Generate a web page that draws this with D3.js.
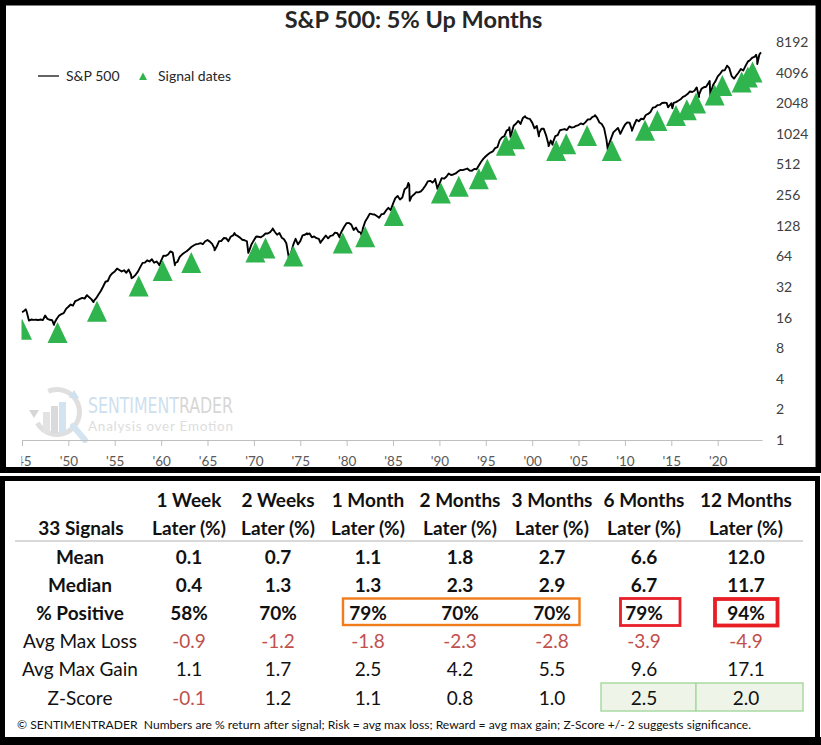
<!DOCTYPE html>
<html>
<head>
<meta charset="utf-8">
<script src="https://cdn.jsdelivr.net/npm/d3@7"></script>
<style>
  body { margin: 0; background: #fff; }
  svg { display: block; font-family: Lato, "Open Sans", sans-serif; }
</style>
</head>
<body>
<svg id="chart" width="821" height="745"></svg>
<script>
// S&P 500, quarter-end closes, first point Jan 1946, then every 3 months
var spxStart = "1946-01-01";
var spxQuarterly = [18.0,
  18.7, 18.4, 14.96, 15.30,   15.17, 15.21, 15.11, 15.30,   15.08, 16.74, 15.49, 15.20,
  15.06, 14.16, 15.58, 16.76,  17.29, 17.69, 19.45, 20.41,   21.48, 20.96, 23.26, 23.77,
  24.37, 24.96, 24.54, 26.57,  25.29, 24.14, 23.35, 24.81,   26.94, 29.21, 32.31, 35.98,
  36.58, 41.03, 43.67, 45.48,  48.48, 46.97, 45.35, 46.67,   44.11, 47.37, 42.42, 39.99,
  42.10, 45.24, 50.06, 55.21,  55.44, 58.47, 56.88, 59.89,   55.34, 56.92, 53.52, 58.11,
  65.06, 64.64, 66.73, 71.55,  69.55, 54.75, 56.27, 63.10,   66.57, 69.37, 71.70, 75.02,
  78.98, 81.69, 84.18, 84.75,  86.16, 84.12, 89.96, 92.43,   89.23, 84.74, 76.56, 80.33,
  90.20, 90.64, 96.71, 96.47,  90.20, 99.58, 102.67, 103.86, 101.51, 97.71, 93.12, 92.06,
  89.63, 72.72, 84.21, 92.15,  100.31, 99.70, 98.34, 102.09, 107.20, 107.14, 110.55, 118.05,
  111.52, 104.26, 108.43, 97.55, 93.98, 86.00, 63.54, 68.56, 83.36, 95.19, 83.87, 90.19,
  102.77, 104.28, 105.24, 107.46, 98.42, 100.48, 96.53, 95.10, 89.21, 95.53, 102.54, 96.11,
  101.59, 102.91, 109.32, 107.94, 102.09, 114.24, 125.46, 135.76, 136.00, 131.21, 116.18, 122.55,
  111.96, 109.61, 120.42, 140.64, 152.96, 168.11, 166.07, 164.93, 159.18, 153.18, 166.10, 167.24,
  180.66, 191.85, 182.08, 211.28, 238.90, 250.84, 231.32, 242.17, 291.70, 304.00, 321.83, 247.08,
  258.89, 273.50, 271.91, 277.72, 294.87, 317.98, 349.15, 353.40, 339.94, 358.02, 306.05, 330.22,
  375.22, 371.16, 387.86, 417.09, 403.69, 408.14, 417.80, 435.71, 451.67, 450.53, 458.93, 466.45,
  445.77, 444.27, 462.69, 459.27, 500.71, 544.75, 584.41, 615.93, 645.50, 670.63, 687.31, 740.74,
  757.12, 885.14, 947.28, 970.43, 1101.75, 1133.84, 1017.01, 1229.23, 1286.37, 1372.71, 1282.71, 1469.25,
  1498.58, 1454.60, 1436.51, 1320.28, 1160.33, 1224.42, 1040.94, 1148.08, 1147.39, 989.82, 815.28, 879.82,
  848.18, 974.50, 995.97, 1111.92, 1126.21, 1140.84, 1114.58, 1211.92, 1180.59, 1191.33, 1228.81, 1248.29,
  1294.83, 1270.20, 1335.85, 1418.30, 1420.86, 1503.35, 1526.75, 1468.36, 1322.70, 1280.00, 1166.36, 903.25,
  797.87, 919.32, 1057.08, 1115.10, 1169.43, 1030.71, 1141.20, 1257.64, 1325.83, 1320.64, 1131.42, 1257.60,
  1408.47, 1362.16, 1440.67, 1426.19, 1569.19, 1606.28, 1681.55, 1848.36, 1872.34, 1960.23, 1972.29, 2058.90,
  2067.89, 2063.11, 1920.03, 2043.94, 2059.74, 2098.86, 2168.27, 2238.83, 2362.72, 2423.41, 2519.36, 2673.61,
  2640.87, 2718.37, 2913.98, 2506.85, 2834.40, 2941.76, 2976.74, 3230.78, 2584.59, 3100.29, 3363.00, 3756.07,
  3972.89, 4297.50, 4307.54, 4766.18, 4530.41, 3785.38, 3585.62, 3839.50, 4109.31, 4450.38, 4288.05, 4769.83,
  5254.35, 5460.48, 5762.48, 5881.63, 5611.85, 6204.95];

// intra-quarter highs / lows and the last point
var spxExtraDates = ["1946-05-29", "1949-06-14", "1953-09-15", "1957-10-22", "1960-10-25", "1962-06-26",
  "1966-10-07", "1968-11-29", "1970-05-26", "1973-01-11", "1974-10-03", "1976-09-21", "1978-03-06",
  "1980-03-27", "1982-08-12", "1987-08-25", "1987-10-19", "1990-07-16", "1990-10-11", "1998-07-17",
  "1998-08-31", "2000-03-24", "2001-09-21", "2002-10-09", "2003-03-11", "2007-10-09", "2009-03-09",
  "2010-07-02", "2011-10-03", "2015-08-25", "2016-02-11", "2018-09-20", "2018-12-24", "2020-02-19",
  "2020-03-23", "2022-01-03", "2022-10-12", "2025-02-19", "2025-04-08", "2025-09-01"];
var spxExtraValues = [19.25, 13.55, 22.7, 38.98, 52.2, 52.32,
  73.2, 108.37, 69.29, 120.24, 62.28, 107.83, 86.9,
  98.22, 102.42, 336.77, 224.84, 368.95, 295.46, 1186.75,
  957.28, 1527.46, 965.8, 776.76, 800.73, 1565.15, 676.53,
  1022.58, 1099.23, 1867.61, 1829.08, 2930.75, 2351.1, 3386.15,
  2237.4, 4796.56, 3577.03, 6144.15, 4982.77, 6460.26];

// signal dates and the level where each marker sits
var signalDates = ["1946-01", "1949-11", "1954-02", "1958-08", "1961-03", "1964-04", "1971-03", "1972-04",
  "1975-04", "1980-08", "1983-01", "1986-02", "1991-03", "1993-02", "1995-04", "1996-03", "1998-03",
  "1999-03", "2003-08", "2004-09", "2006-12", "2009-08", "2013-03", "2014-07", "2016-07", "2017-09",
  "2018-09", "2020-09", "2021-07", "2023-08", "2024-04", "2024-10"];
var signalLevels = [12.3, 11.4, 18.5, 32.7, 46.4, 55.6, 70.5, 77.2,
  64.4, 86.5, 99.7, 161, 268, 312, 370, 459, 790,
  915, 702, 819, 986, 702, 1109, 1384, 1550, 1767,
  2057, 2466, 3057, 3309, 3705, 4150];

var yTicks = [1, 2, 4, 8, 16, 32, 64, 128, 256, 512, 1024, 2048, 4096, 8192];
var xTickYears = [1945, 1950, 1955, 1960, 1965, 1970, 1975, 1980, 1985, 1990, 1995, 2000, 2005, 2010, 2015, 2020];

// stats table
var signalCount = 33;
var horizons = ["1 Week", "2 Weeks", "1 Month", "2 Months", "3 Months", "6 Months", "12 Months"];
var meanRet = [0.1, 0.7, 1.1, 1.8, 2.7, 6.6, 12.0];
var medianRet = [0.4, 1.3, 1.3, 2.3, 2.9, 6.7, 11.7];
var pctPositive = [58, 70, 79, 70, 70, 79, 94];
var avgMaxLoss = [-0.9, -1.2, -1.8, -2.3, -2.8, -3.9, -4.9];
var avgMaxGain = [1.1, 1.7, 2.5, 4.2, 5.5, 9.6, 17.1];
var zScore = [-0.1, 1.2, 1.1, 0.8, 1.0, 2.5, 2.0];

var svg = d3.select("#chart");
var green = "#2fb44e";

// panel borders
svg.append("rect").attr("x", 3).attr("y", 2.5).attr("width", 815.5).attr("height", 467.5)
    .attr("fill", "#fff").attr("stroke", "#000").attr("stroke-width", 6);
svg.append("rect").attr("x", 2.5).attr("y", 478.5).attr("width", 815).attr("height", 262)
    .attr("fill", "#fff").attr("stroke", "#000").attr("stroke-width", 5);
svg.append("rect").attr("x", 0).attr("y", 737).attr("width", 821).attr("height", 8).attr("fill", "#000");

// scales
var parseM = d3.timeParse("%Y-%m");
var parseD = d3.timeParse("%Y-%m-%d");
var x = d3.scaleTime()
    .domain([new Date(1946, 0, 1), new Date(2025, 9, 10)])
    .range([22, 762]);
var y = d3.scaleLog().base(2)
    .domain([1, 8192])
    .range([440, 42]);

var defs = svg.append("defs");
defs.append("clipPath").attr("id", "plotclip")
    .append("rect").attr("x", 21.5).attr("y", 30).attr("width", 750).attr("height", 420);
// axis clip is in the axis group's own coordinates
defs.append("clipPath").attr("id", "axisclip")
    .append("rect").attr("x", 21.5).attr("y", -10).attr("width", 780).attr("height", 40);
// two-tone fill for the watermark word
var wg = defs.append("linearGradient").attr("id", "wmfill")
    .attr("gradientUnits", "userSpaceOnUse").attr("x1", 88).attr("x2", 233).attr("y1", 0).attr("y2", 0);
wg.append("stop").attr("offset", 0.6).attr("stop-color", "#c8dced");
wg.append("stop").attr("offset", 0.6).attr("stop-color", "#d2d2d2");

// watermark
var wm = svg.append("g").attr("opacity", 0.9);
wm.append("path")
    .attr("d", d3.arc()({innerRadius: 20, outerRadius: 25, startAngle: -0.4, endAngle: 4.2}))
    .attr("transform", "translate(57,412)")
    .attr("fill", "#dcdcdc");
wm.append("path").attr("d", "M29,410 L39,410 L34,418 Z").attr("fill", "#d2d2d2");
wm.append("path").attr("d", "M69,398 L79,398 L74,390 Z").attr("fill", "#c9def0");
wm.append("rect").attr("x", 43).attr("y", 412).attr("width", 7).attr("height", 21).attr("fill", "#e1e1e1");
wm.append("rect").attr("x", 51).attr("y", 406).attr("width", 7).attr("height", 27).attr("fill", "#d6d6d6");
wm.append("rect").attr("x", 59).attr("y", 402).attr("width", 7).attr("height", 31).attr("fill", "#cfe1ef");
wm.append("line").attr("x1", 73).attr("y1", 426).attr("x2", 85).attr("y2", 440)
    .attr("stroke", "#cfe1ef").attr("stroke-width", 6).attr("stroke-linecap", "round");
wm.append("text").attr("x", 88).attr("y", 413).attr("font-size", 21)
    .attr("font-family", "'Liberation Sans Narrow', 'DejaVu Sans Condensed', sans-serif")
    .attr("textLength", 145).attr("lengthAdjust", "spacingAndGlyphs")
    .attr("fill", "url(#wmfill)").text("SENTIMENTRADER");
wm.append("text").attr("x", 88).attr("y", 431)
    .attr("font-size", 13.5).attr("textLength", 145).attr("lengthAdjust", "spacing")
    .attr("fill", "#dadada").text("Analysis over Emotion");

// title
svg.append("text").attr("x", 413.5).attr("y", 28)
    .attr("text-anchor", "middle").attr("font-size", 23.5).attr("font-weight", "bold")
    .attr("fill", "#262626").text("S&P 500: 5% Up Months");

// legend
svg.append("line").attr("x1", 38).attr("x2", 59).attr("y1", 76).attr("y2", 76)
    .attr("stroke", "#222").attr("stroke-width", 1.4);
svg.append("text").attr("x", 66).attr("y", 81).attr("font-size", 14).attr("fill", "#262626").text("S&P 500");
svg.append("path").attr("d", "M143,72.5 L147,80 L139,80 Z").attr("fill", green);
svg.append("text").attr("x", 158).attr("y", 81).attr("font-size", 14).attr("fill", "#262626").text("Signal dates");

// x axis
var xAxis = d3.axisBottom(x)
    .tickValues(xTickYears.map(function(yr) { return new Date(yr, 11, 31); }))
    .tickFormat(function(d) { return "'" + String(d.getFullYear()).slice(2); })
    .tickSize(6).tickSizeOuter(0).tickPadding(10);
var gx = svg.append("g").attr("transform", "translate(0,440)")
    .attr("clip-path", "url(#axisclip)")
    .call(xAxis);
gx.select(".domain").attr("stroke", "#bfbfbf").attr("stroke-width", 1.2);
gx.selectAll(".tick line").attr("stroke", "#bfbfbf");
gx.selectAll(".tick text").attr("font-size", 13.5).attr("fill", "#595959")
    .attr("font-family", "Lato, sans-serif");

// y axis (labels only, right side)
var yAxis = d3.axisRight(y).tickValues(yTicks).tickFormat(d3.format("d")).tickSize(0).tickPadding(0);
var gy = svg.append("g").attr("transform", "translate(776,0)").call(yAxis);
gy.select(".domain").remove();
gy.selectAll(".tick text").attr("font-size", 14).attr("fill", "#404040")
    .attr("font-family", "Lato, sans-serif");

// price line
var spx = spxQuarterly.map(function(v, i) {
    return {date: d3.timeMonth.offset(parseD(spxStart), 3 * i), value: v};
}).concat(spxExtraDates.map(function(d, i) {
    return {date: parseD(d), value: spxExtraValues[i]};
})).sort(function(a, b) { return a.date - b.date; });

var plot = svg.append("g").attr("clip-path", "url(#plotclip)");
plot.append("path")
    .datum(spx)
    .attr("fill", "none")
    .attr("stroke", "#000")
    .attr("stroke-width", 1.9)
    .attr("stroke-linejoin", "round")
    .attr("d", d3.line()
        .x(function(d) { return x(d.date); })
        .y(function(d) { return y(d.value); }));

// signal markers
var signals = signalDates.map(function(d, i) { return {date: parseM(d), level: signalLevels[i]}; });
plot.selectAll(".signal")
    .data(signals)
    .enter().append("path")
    .attr("class", "signal")
    .attr("fill", green)
    .attr("d", function(d) {
        var cx = x(d.date), cy = y(d.level);
        return "M" + cx + "," + (cy - 10.5) + "L" + (cx + 10) + "," + (cy + 10.5) +
            "L" + (cx - 10) + "," + (cy + 10.5) + "Z";
    });

// ---------- table ----------
var colX = d3.scaleOrdinal().domain(horizons).range([189, 278, 368, 460, 552, 644, 746]);
var labelX = 80;
var red = "#c0504d";
var fmt1 = function(v) { return v.toFixed(1); };
var pct = function(v) { return v + "%"; };

var tbl = svg.append("g").attr("font-size", 19);

// highlighted cells (drawn first)
tbl.append("rect").attr("x", 601).attr("y", 683).attr("width", 95).attr("height", 28)
    .attr("fill", "#eef5e8").attr("stroke", "#a9d9a3").attr("stroke-width", 1.5);
tbl.append("rect").attr("x", 696).attr("y", 683).attr("width", 107).attr("height", 28)
    .attr("fill", "#eef5e8").attr("stroke", "#a9d9a3").attr("stroke-width", 1.5);

// header
tbl.append("text").attr("x", 81).attr("y", 528).attr("dy", "0.35em").attr("text-anchor", "middle")
    .attr("font-weight", "bold").attr("fill", "#111").text(signalCount + " Signals");
horizons.forEach(function(h) {
    tbl.append("text").attr("x", colX(h)).attr("y", 500).attr("dy", "0.35em").attr("text-anchor", "middle")
        .attr("font-weight", "bold").attr("fill", "#111").text(h);
    tbl.append("text").attr("x", colX(h)).attr("y", 528).attr("dy", "0.35em").attr("text-anchor", "middle")
        .attr("font-weight", "bold").attr("fill", "#111").text("Later (%)");
});
tbl.append("line").attr("x1", 15).attr("x2", 803).attr("y1", 541).attr("y2", 541)
    .attr("stroke", "#d9d9d9").attr("stroke-width", 2);

var rows = [
    {label: "Mean", values: meanRet, f: fmt1, bold: true},
    {label: "Median", values: medianRet, f: fmt1, bold: true},
    {label: "% Positive", values: pctPositive, f: pct, bold: true},
    {label: "Avg Max Loss", values: avgMaxLoss, f: fmt1, bold: false},
    {label: "Avg Max Gain", values: avgMaxGain, f: fmt1, bold: false},
    {label: "Z-Score", values: zScore, f: fmt1, bold: false}
];
var rowY = d3.scalePoint().domain(rows.map(function(r) { return r.label; })).range([557, 698]);

rows.forEach(function(r) {
    var yy = rowY(r.label);
    tbl.append("text").attr("x", labelX).attr("y", yy).attr("dy", "0.35em").attr("text-anchor", "middle")
        .attr("font-weight", r.bold ? "bold" : "normal").attr("fill", "#111").text(r.label);
    r.values.forEach(function(v, i) {
        tbl.append("text").attr("x", colX(horizons[i])).attr("y", yy).attr("dy", "0.35em")
            .attr("text-anchor", "middle")
            .attr("font-weight", r.bold ? "bold" : "normal")
            .attr("fill", v < 0 ? red : "#111")
            .text(r.f(v));
    });
});

// outline boxes
tbl.append("rect").attr("x", 343).attr("y", 598.5).attr("width", 236.5).attr("height", 26.5)
    .attr("fill", "none").attr("stroke", "#f07c1c").attr("stroke-width", 2.4);
tbl.append("rect").attr("x", 620.5).attr("y", 598.5).attr("width", 59.5).attr("height", 27)
    .attr("fill", "none").attr("stroke", "#e8202a").attr("stroke-width", 2.8);
tbl.append("rect").attr("x", 715).attr("y", 599).attr("width", 62.5).attr("height", 26.5)
    .attr("fill", "none").attr("stroke", "#e81e25").attr("stroke-width", 3.8);

// footer
svg.append("text").attr("x", 17).attr("y", 725).attr("dy", "0.35em")
    .attr("font-size", 12.1).attr("fill", "#111")
    .attr("xml:space", "preserve")
    .text("\u00A9 SENTIMENTRADER  Numbers are % return after signal; Risk = avg max loss; Reward = avg max gain; Z-Score +/- 2 suggests significance.");
</script>
</body>
</html>
